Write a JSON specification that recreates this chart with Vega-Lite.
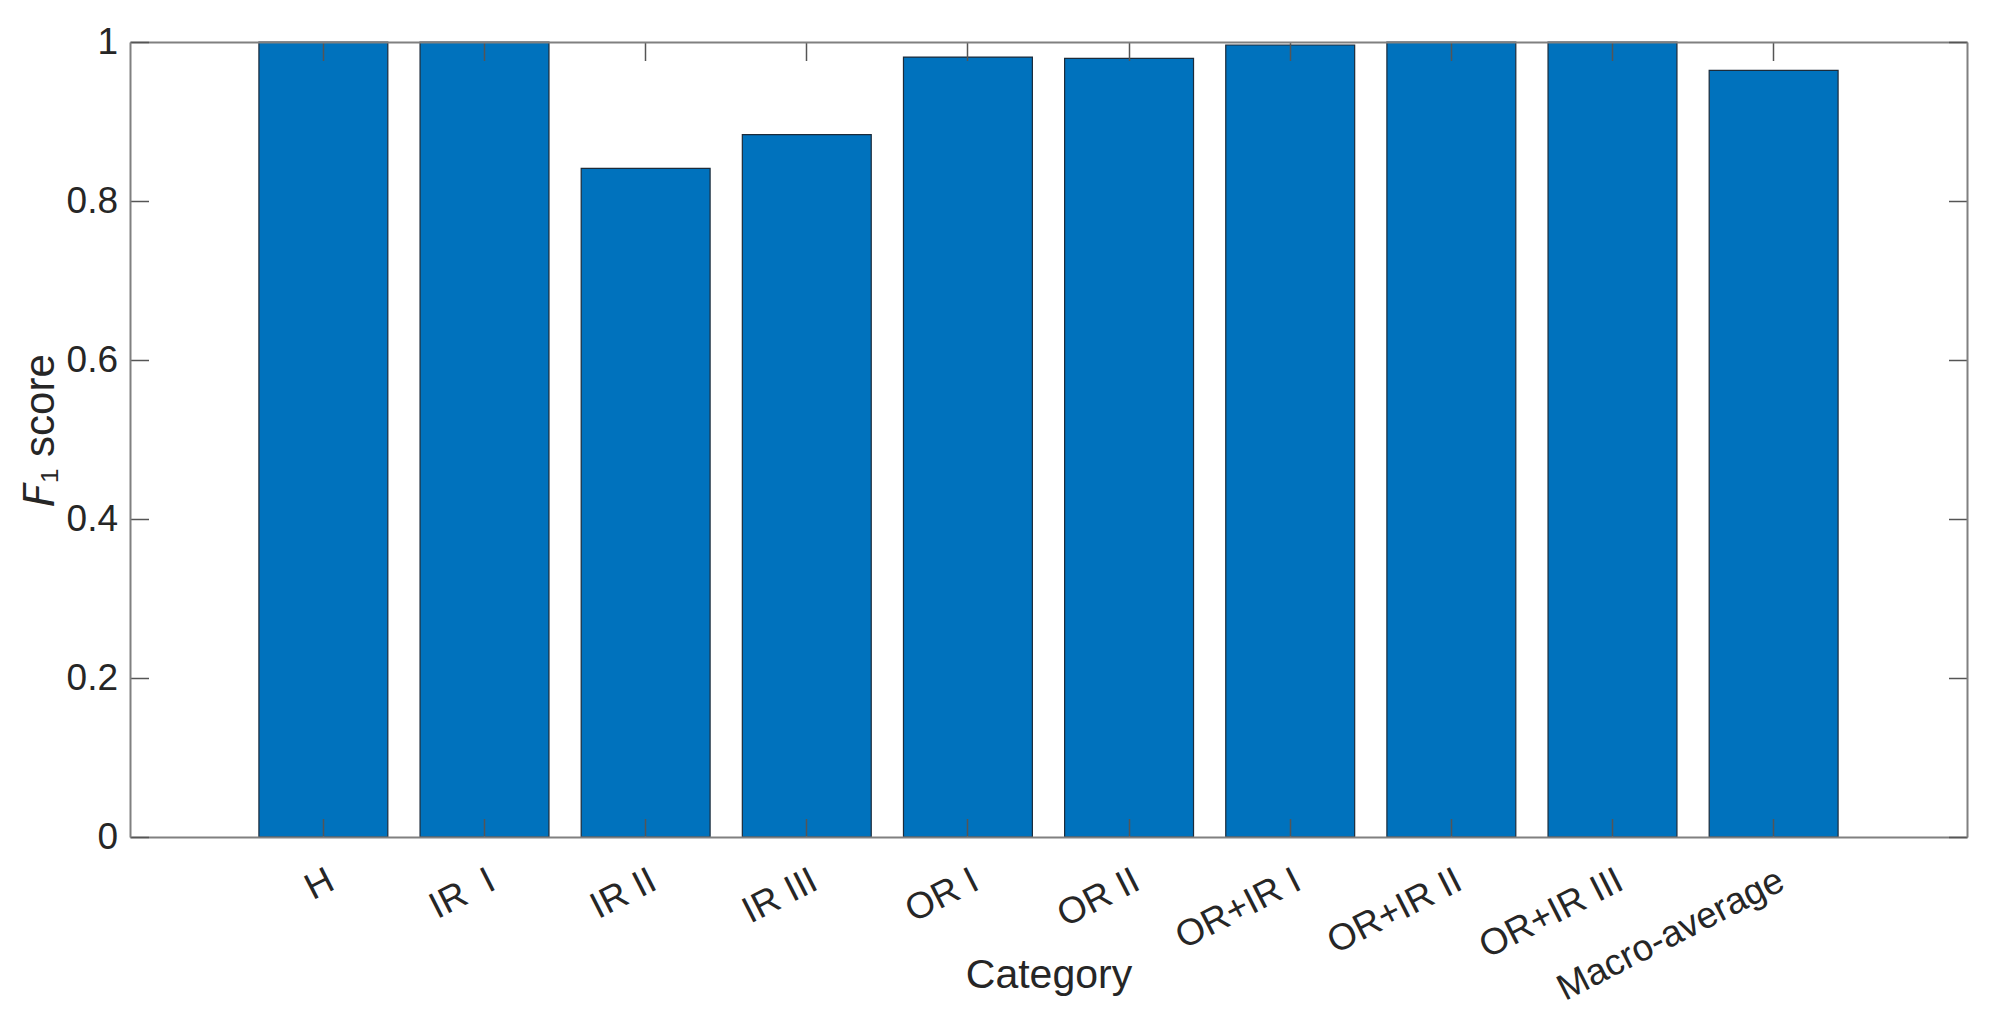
{
  "$schema": "https://vega.github.io/schema/vega-lite/v6.json",
  "width": 1837,
  "height": 795,
  "autosize": {"type": "none"},
  "padding": {"left": 130, "top": 42, "right": 24, "bottom": 188},
  "background": "white",
  "config": {"view": {"stroke": null}, "font": "Liberation Sans"},
  "data": {
    "values": [
      {"category": "H", "f1": 1.0},
      {"category": "IR  I", "f1": 1.0},
      {"category": "IR II", "f1": 0.841},
      {"category": "IR III", "f1": 0.8834},
      {"category": "OR I", "f1": 0.981},
      {"category": "OR II", "f1": 0.9795},
      {"category": "OR+IR I", "f1": 0.9962},
      {"category": "OR+IR II", "f1": 1.0},
      {"category": "OR+IR III", "f1": 1.0},
      {"category": "Macro-average", "f1": 0.9644}
    ]
  },
  "layer": [
    {
      "mark": {"type": "bar", "color": "#0072BD", "stroke": "#1c2b3a", "strokeWidth": 1.2},
      "encoding": {
        "x": {
          "field": "category", "type": "nominal", "sort": null,
          "scale": {"paddingInner": 0.2, "paddingOuter": 0.8},
          "axis": {
            "orient": "bottom", "title": "Category", "zindex": 1,
            "domainColor": "#808080", "domainWidth": 2,
            "tickColor": "#555555", "tickWidth": 1.5, "tickSize": -18.5,
            "labelAngle": -27, "labelAlign": "right", "labelBaseline": "top",
            "labelPadding": 43.5, "labelFontSize": 37, "labelColor": "#262626",
            "labelOverlap": false, "labelFlush": false, "labelBound": false, "labelLimit": 0,
            "labelExpr": "replace(datum.label, '  ', '\u00a0\u00a0')",
            "titleFontSize": 41, "titleFontWeight": "normal", "titleColor": "#262626",
            "titleBaseline": "alphabetic", "titleY": 150
          }
        },
        "y": {
          "field": "f1", "type": "quantitative",
          "scale": {"domain": [0, 1], "nice": false},
          "axis": {
            "orient": "left", "title": "𝘍₁ score", "zindex": 1, "grid": false,
            "values": [0, 0.2, 0.4, 0.6, 0.8, 1], "format": "~g",
            "domainColor": "#808080", "domainWidth": 2,
            "tickColor": "#555555", "tickWidth": 1.5, "tickSize": -18.5,
            "labelPadding": 31, "labelFontSize": 37, "labelColor": "#262626",
            "labelFlush": false, "labelOverlap": false,
            "titleFontSize": 42, "titleFontWeight": "normal", "titleColor": "#262626",
            "titleBaseline": "alphabetic", "titleX": -77, "titleY": 388
          }
        }
      }
    },
    {
      "mark": {"type": "bar", "opacity": 0},
      "encoding": {
        "x": {
          "field": "category", "type": "nominal", "sort": null,
          "scale": {"paddingInner": 0.2, "paddingOuter": 0.8},
          "axis": {
            "orient": "top", "title": null, "labels": false, "zindex": 1,
            "domainColor": "#808080", "domainWidth": 2,
            "tickColor": "#555555", "tickWidth": 1.5, "tickSize": -18.5
          }
        },
        "y": {
          "field": "f1", "type": "quantitative",
          "scale": {"domain": [0, 1], "nice": false},
          "axis": {
            "orient": "right", "title": null, "labels": false, "zindex": 1, "grid": false,
            "values": [0, 0.2, 0.4, 0.6, 0.8, 1],
            "domainColor": "#808080", "domainWidth": 2,
            "tickColor": "#555555", "tickWidth": 1.5, "tickSize": -18.5
          }
        }
      }
    }
  ],
  "resolve": {"axis": {"x": "independent", "y": "independent"}}
}
